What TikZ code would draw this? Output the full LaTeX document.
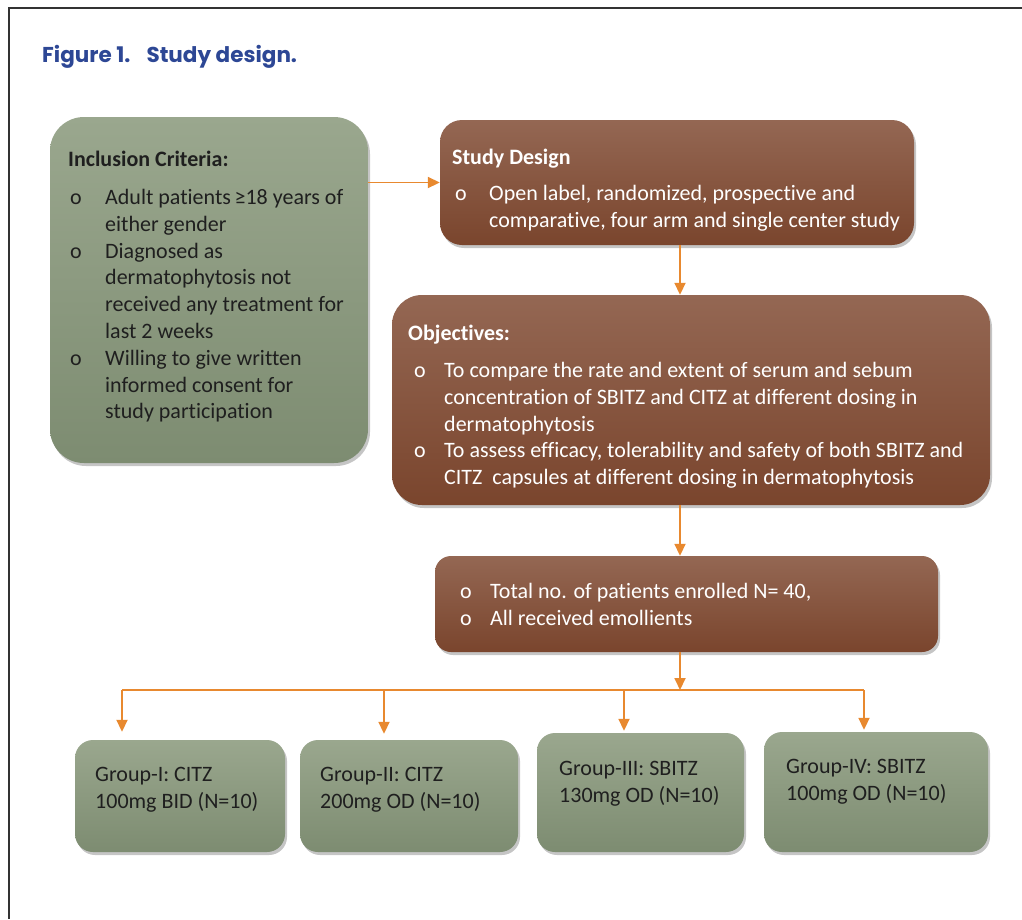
\documentclass[tikz,border=0pt]{standalone}
\usepackage{fontspec}
\setmainfont{Carlito}[Ligatures={NoCommon}]
\newfontfamily\poppinsfont{Poppins}
\usetikzlibrary{arrows.meta,shadows,calc}
\definecolor{gtop}{HTML}{9AA78E}
\definecolor{gbot}{HTML}{7D8C71}
\definecolor{btop}{HTML}{946753}
\definecolor{bbot}{HTML}{7A452D}
\definecolor{arrc}{HTML}{E8892F}
\definecolor{titc}{HTML}{2D4795}
\newcommand{\bl}{\makebox[37pt][l]{\hspace{2pt}o}}
\newcommand{\ind}{\hspace*{37pt}}
\begin{document}
\begin{tikzpicture}[x=1pt,y=-1pt,
  boxbase/.style={rounded corners=28pt, draw=none,
    drop shadow={opacity=0.45,shadow xshift=2pt,shadow yshift=-3pt}},
  gbox/.style={boxbase, top color=gtop, bottom color=gbot},
  bbox/.style={boxbase, top color=btop, bottom color=bbot},
  smallbox/.style={rounded corners=18pt},
  txt/.style={inner sep=0pt, anchor=north west, align=left,
    font=\fontsize{22}{26.8}\selectfont},
  wtxt/.style={txt, text=white},
  dtxt/.style={txt, text=black!88},
  arr/.style={draw=arrc, line width=1.8pt, -{Triangle[length=12pt,width=11pt]}},
  bus/.style={draw=arrc, line width=1.8pt}]
\useasboundingbox (0,0) rectangle (1022,919);
\fill[white] (0,0) rectangle (1022,919);
\draw[black!80, line width=1.5pt] (1022,8) -- (9,8) -- (9,919);

\node[inner sep=0pt, anchor=west, text=titc,
  font=\poppinsfont\bfseries\fontsize{21.5}{26}\selectfont] (title) at (42,57)
  {Figure 1.\hspace{16pt}Study design.};

% boxes
\node[gbox, minimum width=318pt, minimum height=346pt, rounded corners=34pt] (inc) at (209,290) {};
\node[bbox, minimum width=474pt, minimum height=125pt, rounded corners=22pt] (sd) at (677,182.5) {};
\node[bbox, minimum width=598pt, minimum height=210pt, rounded corners=30pt] (obj) at (691,400) {};
\node[bbox, minimum width=503pt, minimum height=96pt, rounded corners=16pt] (tot) at (686.5,604) {};
\node[gbox, smallbox, minimum width=210pt, minimum height=112pt] (g1) at (180,796) {};
\node[gbox, smallbox, minimum width=218pt, minimum height=112pt] (g2) at (409,796) {};
\node[gbox, smallbox, minimum width=207pt, minimum height=119pt] (g3) at (640.5,792.5) {};
\node[gbox, smallbox, minimum width=224pt, minimum height=120pt] (g4) at (876,792) {};

% texts
\node[dtxt] (inct) at (68,151) {\textbf{Inclusion Criteria:}\\[11pt]
\bl Adult patients\,≥18 years of\\
\ind either gender\\
\bl Diagnosed as\\
\ind dermatophytosis not\\
\ind received any treatment for\\
\ind last 2 weeks\\
\bl Willing to give written\\
\ind informed consent for\\
\ind study participation};

\node[wtxt] (sdt) at (452,149) {\textbf{Study Design}\\[9pt]
\makebox[37pt][l]{\hspace{3pt}o}Open label, randomized, prospective and\\
\hspace*{37pt}comparative, four arm and single center study};

\node[wtxt] (objt) at (408,325) {\textbf{Objectives:}\\[10pt]
\makebox[36pt][l]{\hspace{6pt}o}To compare the rate and extent of serum and sebum\\
\hspace*{36pt}concentration of SBITZ and CITZ at different dosing in\\
\hspace*{36pt}dermatophytosis\\
\makebox[36pt][l]{\hspace{6pt}o}To assess efficacy, tolerability and safety of both SBITZ and\\
\hspace*{36pt}CITZ\ \ capsules at different dosing in dermatophytosis};

\node[wtxt] (tott) at (456,583) {\makebox[34pt][l]{\hspace{4pt}o}Total no. of patients enrolled N= 40,\\
\makebox[34pt][l]{\hspace{4pt}o}All received emollients};

\node[dtxt] (g1t) at (95,767) {Group-I: CITZ\\100mg BID (N=10)};
\node[dtxt] (g2t) at (320,767) {Group-II: CITZ\\200mg OD (N=10)};
\node[dtxt] (g3t) at (559,761) {Group-III: SBITZ\\130mg OD (N=10)};
\node[dtxt] (g4t) at (786,759) {Group-IV: SBITZ\\100mg OD (N=10)};

% connectors
\coordinate (spine) at (680,0);
\coordinate (busy) at (0,690);
\coordinate (b1) at (122,690);
\coordinate (b2) at (384,690);
\coordinate (b3) at (624,690);
\coordinate (b4) at (864,690);
\draw[arr] (inc.east |- sd.west) -- (sd.west);
\draw[arr] (spine |- sd.south) -- (spine |- obj.north);
\draw[arr] (spine |- obj.south) -- (spine |- tot.north);
\draw[arr] (spine |- tot.south) -- (spine |- busy);
\draw[bus] (b1) -- (b4);
\draw[arr, shorten >=8pt] (b1) -- (b1 |- g1.north);
\draw[arr, shorten >=6pt] (b2) -- (b2 |- g2.north);
\draw[arr, shorten >=2pt] (b3) -- (b3 |- g3.north);
\draw[arr, shorten >=2pt] (b4) -- (b4 |- g4.north);
\end{tikzpicture}
\end{document}
